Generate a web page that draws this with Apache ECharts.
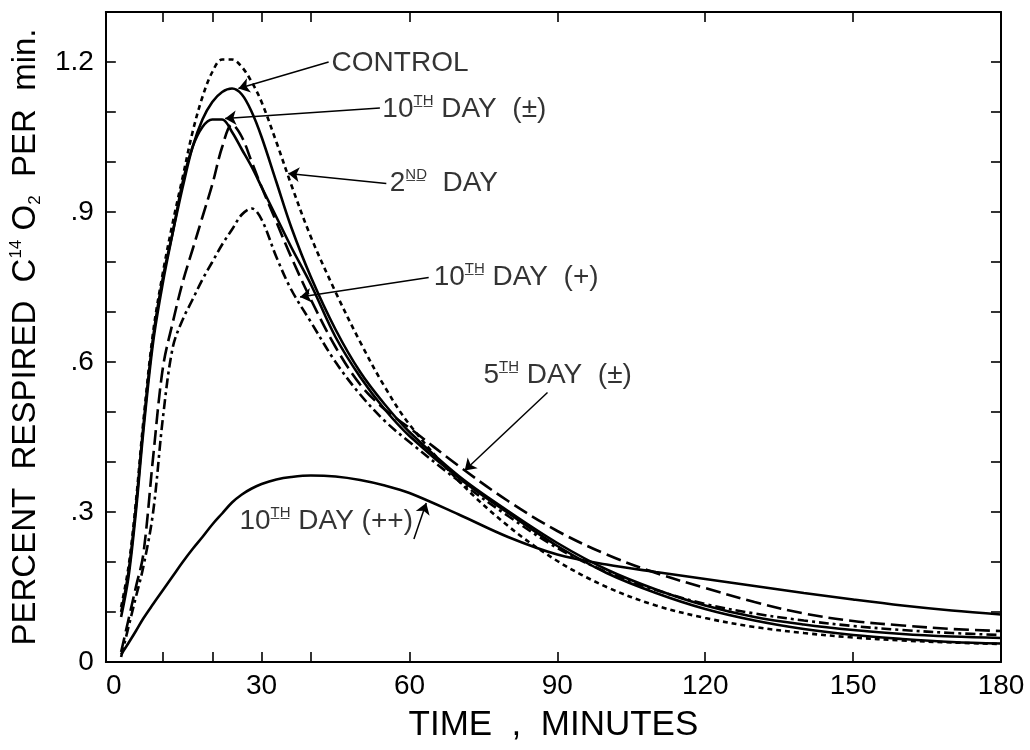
<!DOCTYPE html>
<html>
<head>
<meta charset="utf-8">
<script src="https://cdn.jsdelivr.net/npm/echarts@6/dist/echarts.min.js"></script>
<style>
  html, body { margin: 0; background: #fff; }
  #chart { width: 1030px; height: 750px; }
</style>
</head>
<body>
<div id="chart"></div>
<script>
// time after injection, minutes (shared sampling for every curve)
const minutes = [1.5, 3, 4.5, 6, 8, 10, 12, 14, 16, 18, 20, 22, 24, 26, 28, 30, 33, 36, 40, 45,
                 50, 55, 60, 70, 80, 90, 100, 110, 120, 130, 140, 150, 160, 170, 180];

// percent respired C14O2 per min
const control   = [0.10, 0.18, 0.31, 0.47, 0.65, 0.77, 0.86, 0.95, 1.03, 1.085, 1.12, 1.14, 1.147, 1.135, 1.10, 1.05, 0.96, 0.87, 0.77, 0.665,
                   0.58, 0.515, 0.46, 0.372, 0.302, 0.238, 0.185, 0.145, 0.113, 0.09, 0.075, 0.064, 0.056, 0.051, 0.048];
const day10pm   = [0.09, 0.17, 0.30, 0.46, 0.64, 0.76, 0.86, 0.96, 1.03, 1.07, 1.085, 1.085, 1.06, 1.025, 0.99, 0.95, 0.89, 0.83, 0.755, 0.65,
                   0.57, 0.505, 0.452, 0.368, 0.298, 0.232, 0.178, 0.138, 0.106, 0.083, 0.066, 0.054, 0.046, 0.04, 0.037];
const day2      = [0.11, 0.19, 0.32, 0.48, 0.66, 0.78, 0.88, 0.97, 1.06, 1.13, 1.18, 1.205, 1.205, 1.19, 1.16, 1.12, 1.04, 0.955, 0.85, 0.74,
                   0.64, 0.55, 0.475, 0.362, 0.272, 0.202, 0.15, 0.113, 0.088, 0.07, 0.058, 0.049, 0.043, 0.039, 0.036];
const day5pm    = [0.02, 0.085, 0.15, 0.215, 0.41, 0.59, 0.68, 0.76, 0.825, 0.89, 0.955, 1.03, 1.075, 1.05, 1.0, 0.95, 0.88, 0.81, 0.725, 0.63,
                   0.555, 0.505, 0.468, 0.392, 0.322, 0.262, 0.215, 0.178, 0.148, 0.12, 0.097, 0.082, 0.073, 0.066, 0.062];
const day10plus = [0.01, 0.07, 0.13, 0.19, 0.30, 0.49, 0.63, 0.685, 0.725, 0.765, 0.80, 0.835, 0.865, 0.895, 0.907, 0.885, 0.81, 0.745, 0.68, 0.60,
                   0.535, 0.482, 0.44, 0.362, 0.292, 0.228, 0.18, 0.144, 0.116, 0.097, 0.083, 0.072, 0.064, 0.058, 0.054];
const day10pp   = [0.015, 0.038, 0.062, 0.087, 0.116, 0.144, 0.172, 0.20, 0.226, 0.25, 0.275, 0.297, 0.319, 0.335, 0.347, 0.356, 0.365, 0.37, 0.373, 0.371,
                   0.364, 0.353, 0.338, 0.295, 0.25, 0.215, 0.195, 0.18, 0.166, 0.152, 0.138, 0.125, 0.113, 0.103, 0.095];

const xTicks  = [10, 20, 30, 40, 60, 90, 120, 150, 180];
const xLabels = [0, 30, 60, 90, 120, 150, 180];

// curve captions and their arrows (data coordinates)
const noteText  = ['CONTROL', '10{sup|T\u0332H\u0332} DAY  (±)', '2{sup|N\u0332D\u0332}  DAY', '10{sup|T\u0332H\u0332} DAY  (+)',
                   '5{sup|T\u0332H\u0332} DAY  (±)', '10{sup|T\u0332H\u0332} DAY (++)'];
const noteAt    = [[44.2, 1.198], [54.5, 1.106], [56, 0.958], [64.9, 0.769], [75, 0.573], [25.5, 0.282]];
const arrowFrom = [[43.6, 1.2], [54.0, 1.108], [55.3, 0.957], [63.9, 0.769], [88, 0.539], [60.9, 0.246]];
const arrowTo   = [[25.3, 1.147], [22.6, 1.087], [35.4, 0.977], [37.8, 0.73], [71.2, 0.383], [63.4, 0.318]];
const arrowBend = [0.08, 0.03, -0.05, 0.05, 0.12, 0];

const FONT = 'Liberation Sans, Arial, sans-serif';
const INK = '#000';

function pairs(vals) {
  return minutes.map((t, i) => [t, vals[i]]);
}

function curve(name, vals, type) {
  return {
    name, type: 'line', data: pairs(vals),
    smooth: 0.35, showSymbol: false, symbol: 'none',
    lineStyle: { color: INK, width: 2.6, type },
    z: 3
  };
}

// every side of the box carries ticks pointing inward
function frameAxis(extra) {
  return Object.assign({
    axisLine: { show: true, onZero: false, lineStyle: { color: INK, width: 2 } },
    axisTick: { show: true, inside: true, length: 10, lineStyle: { color: INK, width: 1.6 } },
    splitLine: { show: false }
  }, extra);
}

const xTick = { show: true, inside: true, length: 10, customValues: xTicks, lineStyle: { color: INK, width: 1.6 } };
const supStyle = { fontSize: 15, fontFamily: FONT, verticalAlign: 'top', color: INK, lineHeight: 32 };

const chart = echarts.init(document.getElementById('chart'), null, { renderer: 'canvas' });

chart.setOption({
  backgroundColor: '#fff',
  animation: false,
  grid: { left: 104, right: 29, top: 12, bottom: 88 },
  xAxis: [
    frameAxis({
      type: 'value', min: -1.6, max: 180, position: 'bottom',
      axisTick: xTick,
      axisLabel: { customValues: xLabels, margin: 10, fontSize: 28, fontFamily: FONT, color: INK },
      name: 'TIME  ,  MINUTES', nameLocation: 'middle', nameGap: 46,
      nameTextStyle: { fontSize: 35, fontFamily: FONT, color: INK }
    }),
    frameAxis({
      type: 'value', min: -1.6, max: 180, position: 'top',
      axisTick: xTick,
      axisLabel: { show: false }
    })
  ],
  yAxis: [
    frameAxis({
      type: 'value', min: 0, max: 1.3, interval: 0.1, position: 'left',
      axisLabel: {
        margin: 12, fontSize: 28, fontFamily: FONT, color: INK,
        formatter: v => {
          const k = Math.round(v * 10);
          if (k % 3) return '';
          if (k === 0) return '0';
          return k === 12 ? '1.2' : '.' + k;
        }
      },
      name: 'PERCENT  RESPIRED  C{sup|14} O{sub|2}  PER  min.', nameLocation: 'middle', nameGap: 56,
      nameTextStyle: {
        fontSize: 33, fontFamily: FONT, color: INK,
        rich: {
          sup: { fontSize: 17, fontFamily: FONT, verticalAlign: 'top', color: INK, lineHeight: 36 },
          sub: { fontSize: 17, fontFamily: FONT, verticalAlign: 'bottom', color: INK, lineHeight: 36 }
        }
      }
    }),
    frameAxis({
      type: 'value', min: 0, max: 1.3, interval: 0.1, position: 'right',
      axisLabel: { show: false }
    })
  ],
  series: [
    curve('CONTROL', control, 'solid'),
    curve('10TH DAY (±)', day10pm, 'solid'),
    curve('2ND DAY', day2, [5, 4]),
    curve('5TH DAY (±)', day5pm, [15, 6]),
    curve('10TH DAY (+)', day10plus, [10, 4, 3, 4]),
    curve('10TH DAY (++)', day10pp, 'solid'),
    {
      type: 'line', data: [], silent: true,
      markLine: {
        silent: true, animation: false,
        symbol: ['none', 'arrow'], symbolSize: 11,
        label: { show: false },
        lineStyle: { color: INK, width: 1.5, type: 'solid' },
        data: arrowFrom.map((p, i) => [
          { coord: p, lineStyle: { curveness: arrowBend[i] } },
          { coord: arrowTo[i] }
        ])
      }
    },
    {
      type: 'scatter', silent: true, symbolSize: 0,
      data: noteAt.map((p, i) => ({ value: p, note: noteText[i] })),
      label: {
        show: true, position: 'right', distance: 0,
        formatter: p => p.data.note,
        fontSize: 28, fontFamily: FONT, color: INK,
        rich: { sup: supStyle }
      }
    }
  ]
});
</script>
</body>
</html>
